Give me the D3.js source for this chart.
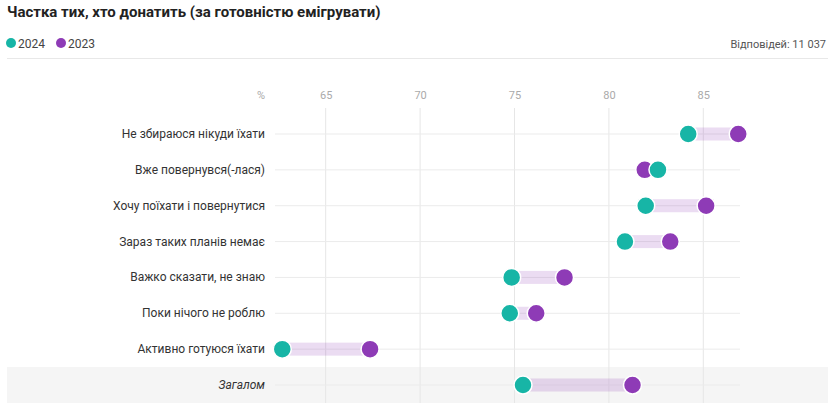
<!DOCTYPE html>
<html><head><meta charset="utf-8">
<script src="https://cdn.jsdelivr.net/npm/d3@7"></script>
<style>body{margin:0;background:#fff;font-family:Roboto,"Noto Sans",sans-serif;}</style>
</head><body>
<svg id="c" width="835" height="409"></svg>
<script>
const categories = ["Не збираюся нікуди їхати","Вже повернувся(-лася)","Хочу поїхати і повернутися","Зараз таких планів немає","Важко сказати, не знаю","Поки нічого не роблю","Активно готуюся їхати","Загалом"];
const values2024 = [84.2, 82.6, 81.95, 80.85, 74.85, 74.75, 62.7, 75.45];
const values2023 = [86.85, 81.9, 85.15, 83.25, 77.65, 76.15, 67.35, 81.25];
const tickValues = [65, 70, 75, 80, 85];
const seriesNames = ["2024", "2023"];
const colors = ["#17b5a6", "#8e3bb6"];

const svg = d3.select("#c");
svg.append("text").attr("x",7).attr("y",17).attr("font-size",15).attr("font-weight",700).attr("fill","#222")
  .text("Частка тих, хто донатить (за готовністю емігрувати)");

// legend
const leg = svg.append("g");
let lx = 11;
seriesNames.forEach((s,i)=>{
  leg.append("circle").attr("cx",lx).attr("cy",43).attr("r",5).attr("fill",colors[i]);
  leg.append("text").attr("x",lx+7).attr("y",47.5).attr("font-size",12).attr("fill","#444").text(s);
  lx += 50;
});
svg.append("text").attr("x",826).attr("y",47.5).attr("text-anchor","end").attr("font-size",11).attr("fill","#555").text("Відповідей: 11 037");
svg.append("line").attr("x1",7).attr("x2",828).attr("y1",58.5).attr("y2",58.5).attr("stroke","#e8e8e8");

const x = d3.scaleLinear().domain([65, 85]).range([325.7, 703.3]);
const y = d3.scalePoint().domain(categories).range([134, 385]);

// highlight band for total row
svg.append("rect").attr("x",7).attr("width",821).attr("y",y("Загалом")-18).attr("height",36).attr("fill","#f5f5f5");

// vertical grid + ticks
const axis = d3.axisTop(x).tickValues(tickValues).tickSize(0).tickPadding(0);
const ax = svg.append("g").attr("transform","translate(0,99)").call(axis);
ax.select(".domain").remove();
ax.selectAll("text").attr("font-size",11).attr("fill","#aaa").attr("font-family","Roboto,sans-serif");
svg.append("text").attr("x",261).attr("y",99).attr("text-anchor","middle").attr("font-size",11).attr("fill","#aaa").text("%");
svg.append("g").selectAll("line").data(tickValues).join("line")
  .attr("x1",d=>x(d)).attr("x2",d=>x(d)).attr("y1",108).attr("y2",403).attr("stroke","#e6e6e6");

// rows
const rows = svg.append("g").selectAll("g").data(categories).join("g").attr("transform",d=>`translate(0,${y(d)})`);
rows.append("line").attr("x1",275).attr("x2",740).attr("stroke","#ebebeb");
rows.append("text").attr("x",265).attr("y",4).attr("text-anchor","end").attr("font-size",12).attr("fill","#333")
  .attr("font-style",d=>d==="Загалом"?"italic":"normal").text(d=>d);
rows.append("rect").attr("x",(d,i)=>x(Math.min(values2024[i],values2023[i])))
  .attr("width",(d,i)=>Math.abs(x(values2023[i])-x(values2024[i]))).attr("y",-6.5).attr("height",13)
  .attr("fill","#8e3bb6").attr("fill-opacity",0.18);
rows.append("circle").attr("cx",(d,i)=>x(values2023[i])).attr("r",9).attr("fill",colors[1]).attr("stroke","#fff").attr("stroke-width",1.5);
rows.append("circle").attr("cx",(d,i)=>x(values2024[i])).attr("r",9).attr("fill",colors[0]).attr("stroke","#fff").attr("stroke-width",1.5);
</script>
</body></html>
